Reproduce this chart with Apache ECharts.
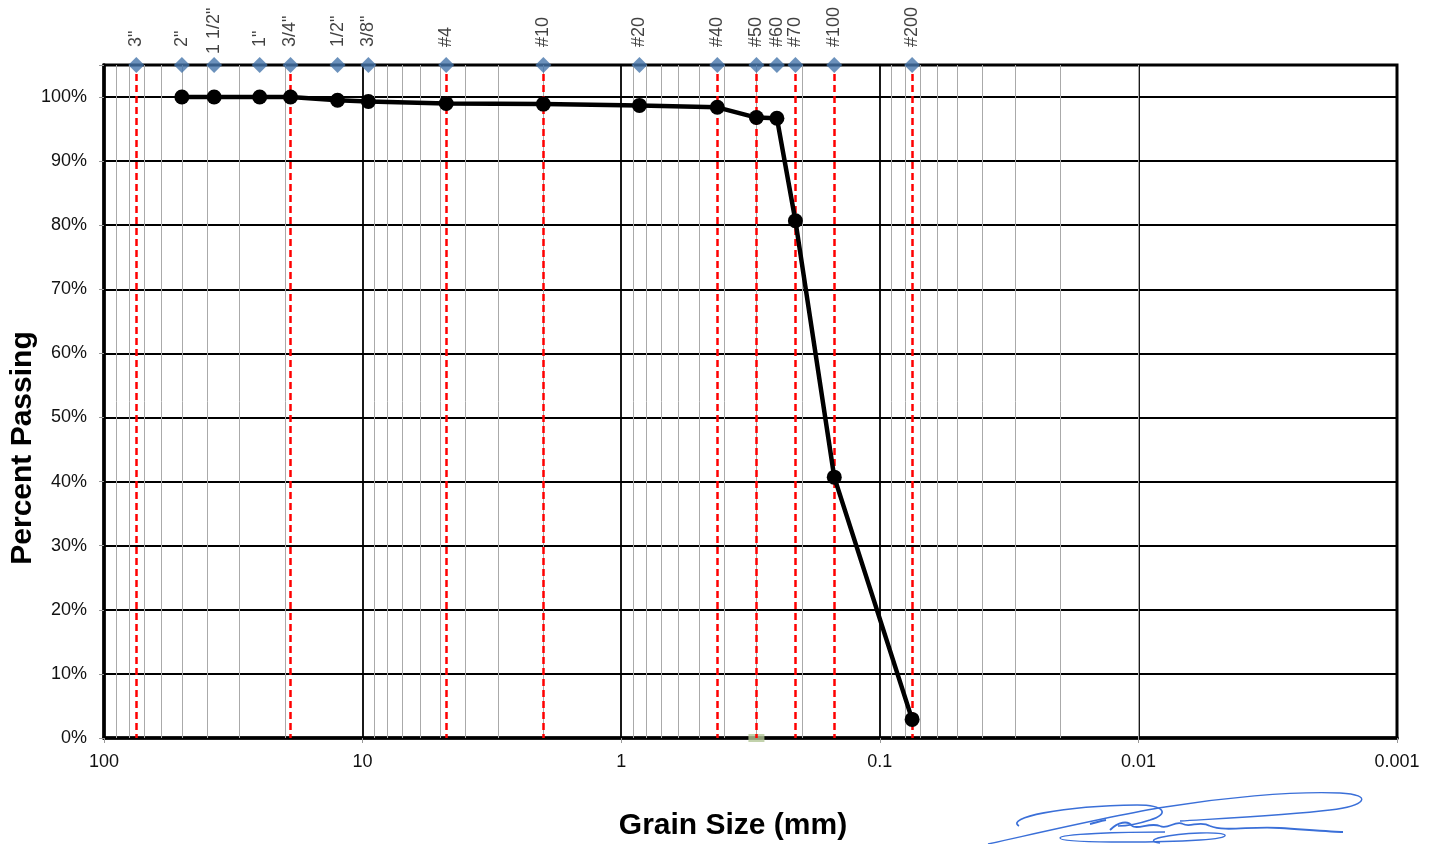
<!DOCTYPE html>
<html>
<head>
<meta charset="utf-8">
<script src="https://cdn.jsdelivr.net/npm/echarts@6/dist/echarts.min.js"></script>
<style>html,body{margin:0;padding:0;background:#fff}#c{width:1434px;height:844px}</style>
</head>
<body>
<div id="c"></div>
<script>
// ---- data ----
const sieveLabels = ['3"','2"','1 1/2"','1"','3/4"','1/2"','3/8"','#4','#10','#20','#40','#50','#60','#70','#100','#200'];
const sieveSizes = [75, 50, 37.5, 25, 19, 12.5, 9.5, 4.75, 2.0, 0.85, 0.425, 0.3, 0.25, 0.212, 0.15, 0.075];
const percentPassing = [null, 100, 100, 100, 100, 99.5, 99.3, 99.0, 98.9, 98.7, 98.4, 96.8, 96.7, 80.7, 40.7, 2.9];
const dashedSieves = ['3"','3/4"','#4','#10','#40','#50','#70','#100','#200'];
const yTicks = [0,10,20,30,40,50,60,70,80,90,100];
const xDecades = [0.001, 0.01, 0.1, 1, 10, 100];
const markerPoint = [[0.3, 0]];
const sieveRowLevel = 105;
const dashTop = 103.6;

// ---- build ----
const font = 'Liberation Sans, Arial, Helvetica, sans-serif';
const minorLines = [];
xDecades.slice(0, -1).forEach(d => { for (let k = 2; k <= 9; k++) minorLines.push({ xAxis: +(k * d).toPrecision(6) }); });
const dashLines = dashedSieves.map(l => { const s = sieveSizes[sieveLabels.indexOf(l)]; return [{ coord: [s, dashTop] }, { coord: [s, 0] }]; });
const curve = sieveSizes.map((s, i) => [s, percentPassing[i]]).filter(p => p[1] !== null);
const sieveRow = sieveSizes.map((s, i) => ({
  value: [s, sieveRowLevel], name: sieveLabels[i],
  label: { distance: sieveLabels[i] === '1 1/2"' ? 3 : 10 }
}));

// signature (decorative ink strokes) as cubic bezier segments
function strokes(d, width) {
  const nums = d.replace(/[MC]/g, ' ').trim().split(/[\s,]+/).map(Number);
  const out = [];
  let x = nums[0], y = nums[1];
  for (let i = 2; i + 5 < nums.length; i += 6) {
    out.push({ type: 'bezierCurve', silent: true,
      shape: { x1: x, y1: y, cpx1: nums[i], cpy1: nums[i+1], cpx2: nums[i+2], cpy2: nums[i+3], x2: nums[i+4], y2: nums[i+5] },
      style: { stroke: '#3a6fd8', lineWidth: width, fill: null } });
    x = nums[i+4]; y = nums[i+5];
  }
  return out;
}
const sig = [].concat(
  strokes('M1019,826 C1005,818 1060,806 1137,805 C1165,805 1170,814 1150,820 C1138,824 1125,826 1118,826', 1.6),
  strokes('M988,844 C1060,828 1120,814 1165,807 C1220,798 1290,791 1340,793 C1375,795 1365,806 1330,810 C1290,815 1230,818 1180,821', 1.4),
  strokes('M1090,824 C1095,823 1100,821 1106,820', 2.2),
  strokes('M1110,830 C1118,822 1128,820 1132,826 C1138,830 1150,822 1160,826 C1168,830 1175,820 1183,824 C1190,828 1200,820 1210,826 C1225,832 1250,826 1280,828 C1310,830 1335,832 1343,832', 1.8),
  strokes('M1165,832 C1120,832 1060,834 1060,838 C1060,843 1150,843 1200,840 C1235,838 1232,832 1200,833 C1170,834 1140,840 1160,843', 1.4)
);

const chart = echarts.init(document.getElementById('c'), null, { renderer: 'canvas' });
chart.setOption({
  animation: false,
  backgroundColor: '#fff',
  textStyle: { fontFamily: font },
  grid: { left: 104, right: 37, top: 65, bottom: 106, show: true, borderColor: '#000', borderWidth: 3, backgroundColor: 'transparent' },
  xAxis: {
    type: 'log', logBase: 10, min: 0.001, max: 100, inverse: true,
    axisLine: { show: true, lineStyle: { color: '#000', width: 3.5 } },
    axisTick: { show: true, inside: false, length: 5, lineStyle: { color: '#999', width: 1 } },
    axisLabel: { color: '#111', fontSize: 18, fontFamily: font, margin: 15,
      formatter: v => String(Number((+v).toPrecision(6))) },
    splitLine: { show: true, lineStyle: { color: '#000', width: 1.8 } },
    minorTick: { show: false }, minorSplitLine: { show: false }
  },
  yAxis: {
    type: 'value', min: 0, max: 105, interval: 10,
    axisLine: { show: true, lineStyle: { color: '#000', width: 3.5 } },
    axisTick: { show: true, length: 5, lineStyle: { color: '#999', width: 1 } },
    axisLabel: { color: '#111', fontSize: 18, fontFamily: font, margin: 17,
      formatter: v => (yTicks.indexOf(v) >= 0 ? v + '%' : '') },
    splitLine: { show: true, lineStyle: { color: '#000', width: 1.8 } }
  },
  series: [
    {
      name: 'minor', type: 'line', data: [], z: 1, silent: true,
      markLine: { silent: true, symbol: 'none', label: { show: false }, animation: false,
        lineStyle: { color: '#aaaaaa', width: 1, type: 'solid' }, data: minorLines }
    },
    {
      name: 'dash', type: 'line', data: [], z: 3, silent: true,
      markLine: { silent: true, symbol: 'none', label: { show: false }, animation: false,
        lineStyle: { color: '#ff0000', width: 2.5, type: [7, 4] }, data: dashLines }
    },
    {
      name: 'Percent Passing', type: 'line', data: curve, z: 5,
      lineStyle: { color: '#000', width: 4.5 },
      symbol: 'circle', symbolSize: 15, itemStyle: { color: '#000' }
    },
    {
      name: 'sieves', type: 'scatter', data: sieveRow, z: 6,
      symbol: 'diamond', symbolSize: [16, 16], itemStyle: { color: '#4675ab' },
      label: { show: true, position: 'top', rotate: 90, align: 'left', verticalAlign: 'middle',
        formatter: p => p.name, color: '#111', fontSize: 18, fontFamily: font },
      clip: false
    },
    {
      name: 'marker', type: 'scatter', data: markerPoint, z: 2,
      symbol: 'rect', symbolSize: [16, 8], itemStyle: { color: '#b3c797' }, clip: false
    }
  ],
  graphic: [
    { type: 'text', x: 733, y: 826, style: { text: 'Grain Size (mm)', font: 'bold 30px ' + font, fill: '#000', textAlign: 'center', textVerticalAlign: 'middle' } },
    { type: 'text', x: 23, y: 448, rotation: Math.PI / 2, style: { text: 'Percent Passing', font: 'bold 30px ' + font, fill: '#000', textAlign: 'center', textVerticalAlign: 'middle' } },
    { type: 'group', silent: true, children: sig }
  ]
});
</script>
</body>
</html>
